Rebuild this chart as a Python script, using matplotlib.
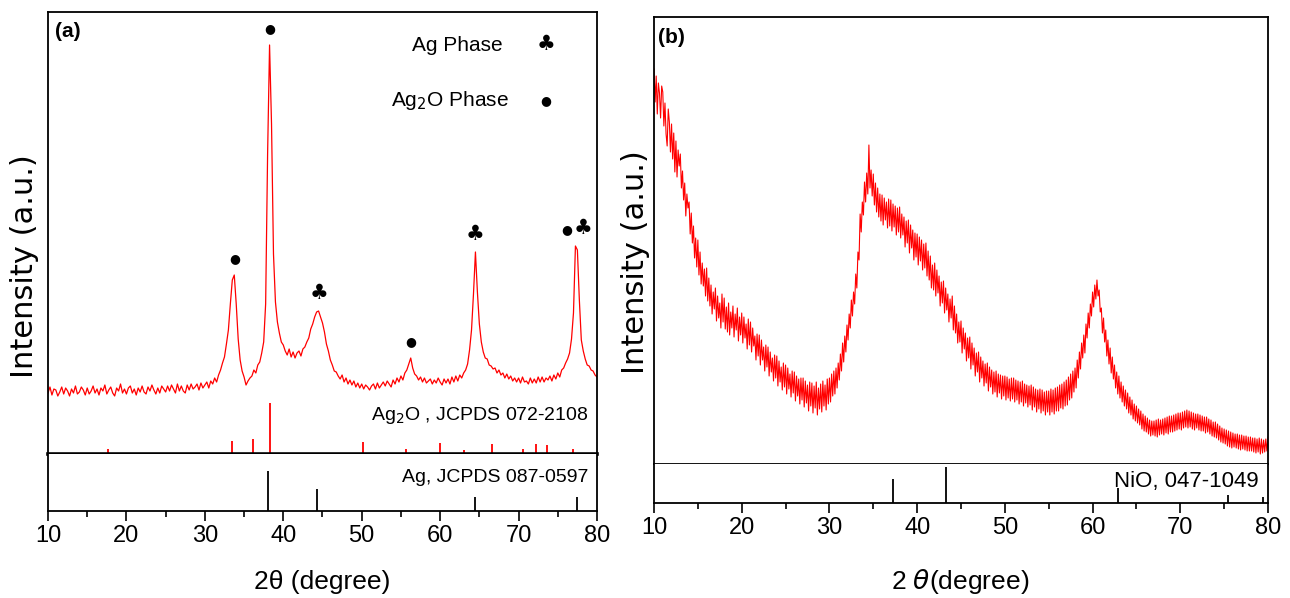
import numpy as np
import matplotlib
matplotlib.use("Agg")
import matplotlib.pyplot as plt

# ---- data ----
# 2theta grid for (a): 0.25 deg steps, for (b): 0.125 deg steps
two_theta_a = np.arange(10, 80.001, 0.25)
two_theta_b = np.arange(10, 80.001, 0.125)

# (a) Ag/Ag2O pattern, arbitrary units
int_a = [
    61, 67, 59, 65,  64, 58, 62, 67,  60, 66, 63, 58,  65, 61, 68, 60,
    62, 67, 64, 59,  66, 60, 63, 68,  61, 65, 59, 66,  63, 69, 60, 64,
    67, 61, 58, 66,  63, 70, 61, 65,  60, 66, 68, 61,  65, 59, 66, 62,
    68, 62, 60, 67,  63, 69, 64, 60,  66, 61, 68, 65,  62, 68, 63, 69,
    65, 61, 70, 63,  68, 63, 61, 69,  64, 70, 65, 67,  70, 64, 71, 66,
    69, 72, 66, 73,  70, 76, 72, 79,  84, 91, 97, 110,  124, 150, 174, 179,
    150, 115, 94, 83,  77, 69, 73, 76,  78, 84, 81, 89,  92, 101, 112, 150,
    300, 409, 330, 200,  152, 132, 121, 112,  109, 103, 99, 105,  97, 102, 96, 101,
    103, 98, 105, 107,  112, 116, 125, 130,  137, 142, 143, 137,  131, 122, 110, 103,
    94, 89, 83, 82,  78, 75, 79, 72,  76, 70, 74, 69,  73, 67, 71, 66,
    70, 65, 69, 67,  64, 68, 70, 65,  71, 66, 69, 72,  68, 73, 70, 67,
    74, 70, 76, 72,  78, 74, 81, 84,  90, 96, 86, 80,  78, 74, 77, 72,
    76, 71, 73, 75,  70, 74, 71, 76,  72, 69, 75, 71,  75, 70, 77, 72,
    78, 73, 79, 76,  81, 84, 90, 104,  124, 160, 202, 162,  130, 112, 102, 96,
    95, 89, 88, 85,  86, 81, 84, 79,  81, 76, 80, 75,  78, 73, 76, 72,
    76, 71, 77, 72,  73, 70, 76, 71,  75, 71, 77, 72,  77, 72, 76, 74,
    78, 73, 79, 75,  81, 77, 84, 86,  91, 95, 101, 115,  141, 208, 204, 154,
    114, 103, 95, 89,  88, 84, 83, 79,  77,
]

# (b) NiO pattern, arbitrary units (one row per degree)
int_b = [
    395, 362, 388, 350, 381, 371, 346, 378,
    372, 338, 361, 330, 318, 355, 342, 312,
    340, 305, 331, 292, 323, 287, 314, 298,
    310, 276, 293, 264, 281, 248, 270, 256,
    262, 230, 251, 221, 238, 206, 226, 197,
    224, 189, 212, 180, 201, 178, 195, 168,
    196, 163, 186, 158, 179, 150, 172, 155,
    176, 143, 168, 146, 161, 136, 170, 142,
    166, 135, 157, 132, 161, 129, 152, 136,
    158, 127, 150, 134, 156, 123, 147, 129,
    151, 121, 147, 126, 140, 115, 145, 119,
    142, 112, 136, 118, 128, 104, 130, 108,
    129, 99, 124, 104, 117, 93, 119, 97,
    117, 88, 112, 92, 106, 83, 109, 86,
    108, 78, 103, 82, 97, 74, 101, 77,
    99, 70, 96, 75, 90, 67, 93, 71,
    92, 63, 88, 68, 85, 60, 86, 64,
    86, 57, 83, 61, 79, 53, 82, 58,
    81, 51, 78, 56, 82, 49, 76, 55,
    80, 52, 83, 58, 79, 54, 85, 60,
    86, 62, 90, 68, 93, 70, 96, 76,
    101, 84, 110, 93, 121, 102, 128, 112,
    139, 124, 150, 136, 164, 148, 172, 160,
    190, 176, 212, 204, 250, 232, 262, 249,
    282, 262, 291, 270, 319, 276, 294, 268,
    290, 259, 281, 252, 276, 247, 270, 243,
    269, 239, 266, 244, 262, 236, 265, 238,
    264, 233, 260, 237, 258, 229, 256, 232,
    257, 226, 250, 229, 247, 217, 243, 221,
    244, 211, 239, 216, 234, 204, 231, 207,
    230, 199, 227, 203, 224, 194, 220, 196,
    221, 188, 213, 184, 208, 176, 199, 174,
    201, 168, 194, 171, 188, 158, 182, 161,
    183, 151, 176, 154, 170, 142, 165, 146,
    168, 134, 158, 131, 150, 121, 142, 122,
    143, 111, 136, 115, 131, 103, 126, 106,
    127, 95, 121, 99, 116, 88, 111, 92,
    112, 82, 107, 86, 103, 78, 100, 81,
    101, 73, 97, 77, 94, 70, 92, 72,
    93, 67, 90, 71, 89, 65, 88, 68,
    88, 64, 87, 66, 85, 63, 86, 65,
    86, 62, 84, 64, 83, 60, 82, 62,
    83, 58, 80, 61, 79, 57, 78, 59,
    79, 54, 77, 57, 75, 52, 74, 55,
    75, 51, 74, 53, 72, 49, 73, 52,
    73, 49, 75, 52, 74, 50, 76, 53,
    77, 53, 79, 56, 80, 55, 82, 58,
    84, 59, 87, 64, 90, 66, 93, 72,
    96, 76, 104, 86, 112, 95, 121, 106,
    129, 111, 140, 126, 151, 136, 160, 148,
    172, 157, 179, 165, 184, 168, 174, 152,
    156, 131, 146, 122, 134, 108, 124, 100,
    116, 91, 107, 85, 99, 76, 92, 70,
    88, 66, 82, 62, 78, 58, 74, 55,
    71, 51, 67, 49, 64, 45, 60, 43,
    58, 41, 55, 39, 53, 35, 50, 33,
    48, 32, 46, 30, 44, 28, 43, 29,
    43, 28, 44, 27, 45, 29, 44, 30,
    45, 29, 46, 31, 47, 30, 48, 32,
    48, 32, 49, 33, 50, 34, 51, 35,
    51, 34, 52, 36, 53, 37, 54, 36,
    53, 37, 52, 35, 51, 34, 50, 36,
    50, 34, 49, 33, 48, 33, 47, 31,
    47, 32, 45, 30, 44, 28, 42, 27,
    42, 26, 40, 24, 38, 22, 36, 21,
    35, 20, 34, 18, 33, 17, 32, 16,
    31, 17, 30, 16, 30, 15, 29, 14,
    29, 15, 28, 14, 28, 13, 27, 13,
    27, 13, 26, 12, 26, 11, 25, 12,
    26, 10, 25, 11, 24, 12, 25, 13,
    27,
]

# reference cards
ag2o_pos = [17.7, 33.5, 36.2, 38.3, 50.2, 55.6, 60.0, 63.1, 66.6, 70.6, 72.2, 73.6, 76.9]
ag2o_int = [5, 13, 15, 51, 12, 5, 11, 4, 10, 5, 10, 9, 5]
ag_pos = [38.1, 44.3, 64.4, 77.4]
ag_int = [40, 22, 14, 14]
nio_pos = [37.3, 43.3, 62.9, 75.4, 79.4]
nio_int = [24, 36, 15, 8, 6]

# peak assignments in (a)
dot_peaks = [33.8, 38.3, 56.2, 76.2]
club_peaks = [44.5, 64.5, 78.2]

red = "#ff0000"
txt_font = ["Liberation Sans Narrow", "Liberation Sans", "DejaVu Sans"]
plt.rcParams["font.family"] = txt_font

W, H = 1290, 598
fig = plt.figure(figsize=(W / 100, H / 100), dpi=100)


def box(x0, y0, x1, y1):
    return [x0 / W, (H - y1) / H, (x1 - x0) / W, (y1 - y0) / H]


def style_bottom(ax):
    ax.set_xlim(10, 80)
    ax.set_xticks(range(10, 81, 10))
    ax.set_xticks(range(15, 80, 10), minor=True)
    ax.tick_params(axis="x", which="major", direction="out", length=7, width=1.2,
                   labelsize=17, pad=3)
    ax.tick_params(axis="x", which="minor", direction="out", length=4, width=1.2)
    ax.set_yticks([])
    for s in ax.spines.values():
        s.set_linewidth(1.3)


# ---------- (a) ----------
axa = fig.add_axes(box(48, 12, 597, 454))
axa.plot(two_theta_a, int_a, color=red, lw=0.9)
axa.vlines(ag2o_pos, 0, ag2o_int, color=red, lw=1.3)
axa.set_xlim(10, 80)
axa.set_ylim(0, 442)
axa.set_xticks([])
axa.set_yticks([])
for s in axa.spines.values():
    s.set_linewidth(1.3)
axa.spines["bottom"].set_linewidth(2.6)
axa.text(0.012, 0.978, "(a)", transform=axa.transAxes, fontsize=15,
         fontweight="bold", va="top", ha="left")
axa.text(0.985, 0.088, "Ag$_2$O , JCPDS 072-2108", transform=axa.transAxes,
         fontsize=14, ha="right", va="center")

# legend made of text
axa.text(0.745, 0.925, "Ag Phase", transform=axa.transAxes, fontsize=15,
         ha="center", va="center")
axa.text(0.907, 0.928, "\u2663", transform=axa.transAxes, fontsize=15,
         ha="center", va="center", family="DejaVu Sans")
axa.text(0.733, 0.80, "Ag$_2$O Phase", transform=axa.transAxes, fontsize=15,
         ha="center", va="center")
axa.text(0.907, 0.80, "\u25cf", transform=axa.transAxes, fontsize=9,
         ha="center", va="center", family="DejaVu Sans")

# peak markers above the pattern
ya = np.array(int_a)
for p in dot_peaks:
    top = ya[np.abs(two_theta_a - p) <= 1.2].max()
    axa.text(p, top + 10, "\u25cf", fontsize=9, ha="center", va="bottom",
             family="DejaVu Sans")
for p in club_peaks:
    top = ya[np.abs(two_theta_a - p) <= 1.2].max()
    axa.text(p, top + 8, "\u2663", fontsize=15, ha="center", va="bottom",
             family="DejaVu Sans")

axa2 = fig.add_axes(box(48, 454, 597, 511))
axa2.vlines(ag_pos, 0, ag_int, color="black", lw=1.3)
axa2.set_ylim(0, 57)
axa2.spines["top"].set_visible(False)
style_bottom(axa2)
axa2.text(0.985, 0.58, "Ag, JCPDS 087-0597", transform=axa2.transAxes,
          fontsize=14, ha="right", va="center")

fig.text(322 / W, 1 - 582 / H, "2\u03b8 (degree)", fontsize=19,
         ha="center", va="center")
fig.text(25 / W, 1 - 266 / H, "Intensity (a.u.)", fontsize=22, rotation=90,
         ha="center", va="center", family="DejaVu Sans")

# ---------- (b) ----------
axb = fig.add_axes(box(654, 17, 1268, 464))
axb.plot(two_theta_b, int_b, color=red, lw=0.8)
axb.set_xlim(10, 80)
axb.set_ylim(0, 447)
axb.set_xticks([])
axb.set_yticks([])
for s in axb.spines.values():
    s.set_linewidth(1.3)
axb.text(0.007, 0.975, "(b)", transform=axb.transAxes, fontsize=15,
         fontweight="bold", va="top", ha="left")

axb2 = fig.add_axes(box(654, 464, 1268, 503))
axb2.vlines(nio_pos, 0, nio_int, color="black", lw=1.3)
axb2.set_ylim(0, 39)
axb2.spines["top"].set_visible(False)
style_bottom(axb2)
axb2.text(0.985, 0.55, "NiO, 047-1049", transform=axb2.transAxes,
          fontsize=16, ha="right", va="center")

fig.text(960 / W, 1 - 582 / H, "2 $\\theta$(degree)", fontsize=19,
         ha="center", va="center")
fig.text(636 / W, 1 - 262 / H, "Intensity (a.u.)", fontsize=22, rotation=90,
         ha="center", va="center", family="DejaVu Sans")

fig.savefig("out.png", dpi=100)
